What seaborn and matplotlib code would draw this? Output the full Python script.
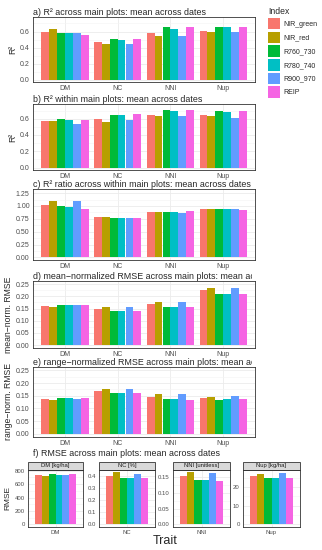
import matplotlib
matplotlib.use("Agg")
import matplotlib.pyplot as plt
from matplotlib.patches import Patch, Rectangle
from matplotlib.ticker import MultipleLocator, FormatStrFormatter
from matplotlib.transforms import Bbox, TransformedBbox
import seaborn as sns
import pandas as pd

traits = ['DM', 'NC', 'NNI', 'Nup']
indices = ['NIR_green', 'NIR_red', 'R760_730', 'R780_740', 'R900_970', 'REIP']
colors = ['#F8766D', '#B79F00', '#00BA38', '#00BFC4', '#619CFF', '#F564E3']

# values per trait, in the order of indices
r2_across = {'DM': [0.59, 0.63, 0.58, 0.58, 0.58, 0.56],
             'NC': [0.47, 0.45, 0.51, 0.50, 0.45, 0.51],
             'NNI': [0.58, 0.55, 0.65, 0.63, 0.55, 0.65],
             'Nup': [0.61, 0.60, 0.66, 0.65, 0.59, 0.65]}
r2_within = {'DM': [0.57, 0.57, 0.59, 0.58, 0.53, 0.58],
             'NC': [0.60, 0.56, 0.65, 0.65, 0.58, 0.66],
             'NNI': [0.65, 0.63, 0.71, 0.70, 0.63, 0.71],
             'Nup': [0.64, 0.63, 0.69, 0.68, 0.61, 0.69]}
r2_ratio = {'DM': [1.02, 1.09, 0.99, 0.98, 1.09, 0.94],
            'NC': [0.78, 0.79, 0.77, 0.76, 0.77, 0.77],
            'NNI': [0.88, 0.88, 0.89, 0.89, 0.86, 0.90],
            'Nup': [0.95, 0.95, 0.94, 0.94, 0.95, 0.93]}
rmse_mean = {'DM': [0.160, 0.155, 0.163, 0.163, 0.163, 0.166],
             'NC': [0.148, 0.157, 0.141, 0.141, 0.156, 0.140],
             'NNI': [0.168, 0.178, 0.155, 0.155, 0.178, 0.155],
             'Nup': [0.226, 0.235, 0.210, 0.210, 0.235, 0.210]}
rmse_range = {'DM': [0.139, 0.135, 0.140, 0.140, 0.139, 0.143],
              'NC': [0.170, 0.178, 0.162, 0.162, 0.177, 0.160],
              'NNI': [0.147, 0.157, 0.138, 0.138, 0.157, 0.135],
              'Nup': [0.143, 0.147, 0.134, 0.137, 0.150, 0.137]}
rmse_abs = {'DM': [740, 720, 745, 735, 735, 750],
            'NC': [0.40, 0.43, 0.38, 0.38, 0.42, 0.38],
            'NNI': [0.153, 0.165, 0.140, 0.140, 0.164, 0.138],
            'Nup': [26.0, 27.0, 25.0, 25.0, 27.5, 24.5]}
facet_labels = ['DM [kg/ha]', 'NC [%]', 'NNI [unitless]', 'Nup [kg/ha]']


def to_df(d):
    rows = []
    for t in traits:
        for i, v in zip(indices, d[t]):
            rows.append({'Trait': t, 'Index': i, 'value': v})
    return pd.DataFrame(rows)


sns.set_style('white')
plt.rcParams['font.family'] = ['Liberation Sans', 'DejaVu Sans']

W, H = 322, 550
fig = plt.figure(figsize=(W / 100, H / 100), dpi=100)


def box(l, t, r, b):
    return [l / W, 1 - b / H, (r - l) / W, (b - t) / H]


grey = '#4D4D4D'
# titles of the upper panels are cut off at the right, like in the original
title_clip = TransformedBbox(Bbox([[0, 0], [252 / W, 1]]), fig.transFigure)


def style(ax, ylim, step, fmt):
    ax.set_ylim(*ylim)
    ax.yaxis.set_major_locator(MultipleLocator(step))
    ax.yaxis.set_major_formatter(FormatStrFormatter(fmt))
    ax.yaxis.set_minor_locator(MultipleLocator(step / 2))
    ax.set_facecolor('white')
    ax.grid(True, which='major', color='#EBEBEB', lw=0.6)
    ax.grid(True, which='minor', axis='y', color='#F4F4F4', lw=0.4)
    ax.set_axisbelow(True)
    for s in ax.spines.values():
        s.set_visible(True)
        s.set_color('#333333')
        s.set_linewidth(0.6)
    ax.tick_params(axis='both', which='major', labelsize=5, colors=grey,
                   length=1.6, width=0.5, pad=0.8, labelcolor=grey)
    ax.tick_params(axis='both', which='minor', length=0)
    ax.set_xlabel('')


panels = [
    ('a) R² across main plots: mean across dates', r2_across, 'R²', (17, 82), (-0.025, 0.78), 0.2, '%.1f'),
    ('b) R² within main plots: mean across dates', r2_within, 'R²', (104, 170), (-0.03, 0.78), 0.2, '%.1f'),
    ('c) R² ratio across within main plots: mean across dates', r2_ratio, '', (189, 260), (-0.05, 1.33), 0.25, '%.2f'),
    ('d) mean\u2212normalized RMSE across main plots: mean across dates', rmse_mean, 'mean\u2212norm. RMSE', (281, 348), (-0.012, 0.263), 0.05, '%.2f'),
    ('e) range\u2212normalized RMSE across main plots: mean across dates', rmse_range, 'range\u2212norm. RMSE', (367, 437), (-0.012, 0.263), 0.05, '%.2f'),
]

for title, d, ylab, (top, bot), ylim, step, fmt in panels:
    ax = fig.add_axes(box(33, top, 255, bot))
    sns.barplot(data=to_df(d), x='Trait', y='value', hue='Index', hue_order=indices,
                order=traits, palette=colors, saturation=1, width=0.9, gap=0,
                errorbar=None, legend=False, linewidth=0, edgecolor='none', ax=ax)
    ax.set_xlim(-0.6, 3.6)
    style(ax, ylim, step, fmt)
    ax.set_ylabel(ylab, fontsize=6.2, labelpad=2)
    tt = ax.set_title(title, fontsize=6.4, loc='left', pad=1.2, x=0.0)
    tt.set_clip_box(title_clip)
    tt.set_clip_on(True)

# panel f: facets with free y scales
fig.text(33 / W, 1 - 454 / H, 'f) RMSE across main plots: mean across dates',
         fontsize=6.4, va='center', ha='left')
facet_x = [(28, 83), (99, 155), (173, 230), (243, 300)]
facet_ylims = [(-38, 810), (-0.022, 0.45), (-0.0085, 0.172), (-1.4, 29)]
facet_steps = [200, 0.1, 0.05, 10]
facet_fmts = ['%d', '%.1f', '%.2f', '%d']
for k, t in enumerate(traits):
    l, r = facet_x[k]
    ax = fig.add_axes(box(l, 470, r, 527))
    sub = to_df(rmse_abs)
    sub = sub[sub['Trait'] == t]
    sns.barplot(data=sub, x='Trait', y='value', hue='Index', hue_order=indices,
                palette=colors, saturation=1, width=0.9, gap=0,
                errorbar=None, legend=False, linewidth=0, edgecolor='none', ax=ax)
    ax.set_xlim(-0.6, 0.6)
    style(ax, facet_ylims[k], facet_steps[k], facet_fmts[k])
    ax.tick_params(axis='both', labelsize=4.3)
    ax.set_ylabel('RMSE' if k == 0 else '', fontsize=6, labelpad=2)
    strip = Rectangle((0, 1), 1, 8 / 57, transform=ax.transAxes, clip_on=False,
                      facecolor='#D9D9D9', edgecolor='#333333', lw=0.6)
    ax.add_patch(strip)
    ax.text(0.5, 1 + 4 / 57, facet_labels[k], transform=ax.transAxes,
            ha='center', va='center', fontsize=4.2, color='#1A1A1A')

fig.text(165 / W, 1 - 541 / H, 'Trait', fontsize=9, ha='center', va='center')

handles = [Patch(facecolor=c, edgecolor='none') for c in colors]
leg = fig.legend(handles, indices, loc='upper left', bbox_to_anchor=(265 / W, 1 - 4 / H),
                 frameon=False, title='Index', fontsize=5, title_fontsize=6.2,
                 handlelength=1.8, handleheight=2.2, labelspacing=0.3,
                 handletextpad=0.4, alignment='left', borderaxespad=0)

fig.savefig('out.png', dpi=100)
